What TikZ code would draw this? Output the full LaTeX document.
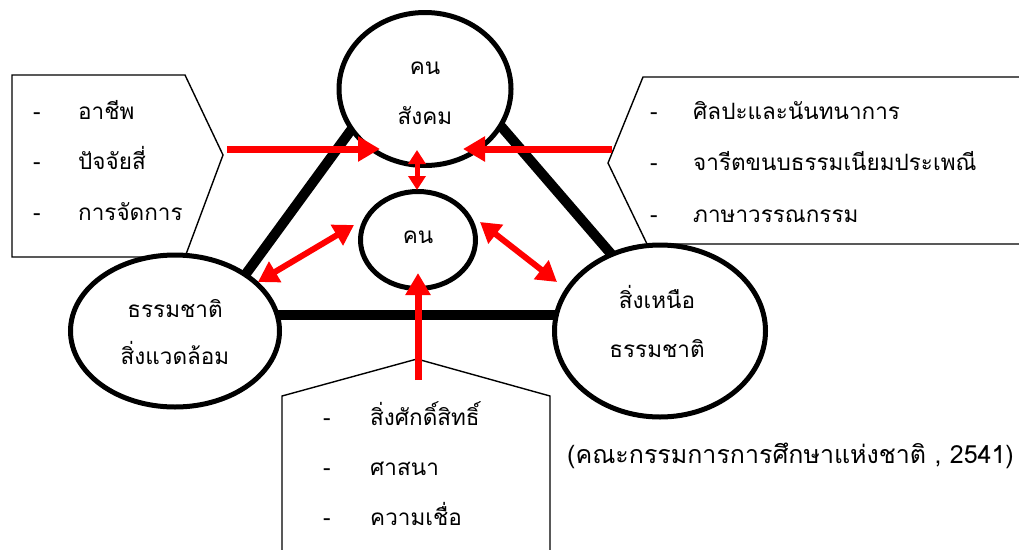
\documentclass[tikz,border=0pt]{standalone}
\usepackage{fontspec}
\newfontfamily\thaifont[Script=Thai]{Loma}
\usetikzlibrary{arrows.meta,shapes.geometric}
\begin{document}
\begin{tikzpicture}[x=1pt,y=-1pt,
  ell/.style={draw, ellipse, line width=5pt, fill=white, inner sep=0pt, outer sep=0pt},
  blackedge/.style={draw, line width=10pt},
  txt/.style={font=\thaifont\fontsize{22.5}{26}\selectfont, inner sep=0pt, anchor=mid},
  itm/.style={txt, anchor=mid west},
  boxline/.style={draw, line width=1.4pt, line join=miter},
  redarr/.style={draw=red, line width=7pt, -{Triangle[length=22pt,width=24pt]}},
  redboth/.style={draw=red, line width=6pt, {Triangle[length=20pt,width=23pt]}-{Triangle[length=20pt,width=23pt]}},
  redsmall/.style={draw=red, line width=5pt, {Triangle[length=14pt,width=17pt]}-{Triangle[length=14pt,width=17pt]}},
]
\useasboundingbox (0,0) rectangle (1019,549);
\fill[white] (0,0) rectangle (1019,549);

% boxes
\draw[boxline] (185,257) -- (12,257) -- (12,75) -- (185,75) -- (223,155) -- cycle;
\draw[boxline] (1030,77) -- (643,77) -- (608,163) -- (647,244) -- (1030,244);
\draw[boxline] (282,555) -- (282,396) -- (417,359) -- (550,396) -- (550,555);
\coordinate (ltip) at (227,149);
\coordinate (rtip) at (612,149);
\coordinate (btip) at (418,380);

% black triangle edges
\draw[blackedge] (362,115) -- (240,282);
\draw[blackedge] (493,117) -- (612,255);
\draw[blackedge] (270,315) -- (565,315);

% ellipses
\node[ell, minimum width=172pt, minimum height=153pt] (top) at (425,89) {};
\node[ell, minimum width=115pt, minimum height=97pt] (inner) at (418,240) {};
\node[ell, minimum width=209pt, minimum height=152pt] (left) at (175,331) {};
\node[ell, minimum width=211pt, minimum height=172pt] (right) at (660,331) {};

% ellipse texts
\node[txt] (t1) at (425,72) {คน};
\node[txt] (t2) at (425,122) {สังคม};
\node[txt] (t3) at (418,241) {คน};
\node[txt] (t4) at (175,315) {ธรรมชาติ};
\node[txt] (t5) at (175,362) {สิ่งแวดล้อม};
\node[txt] (t6) at (657,306) {สิ่งเหนือ};
\node[txt] (t7) at (657,355) {ธรรมชาติ};

% list items
\foreach \y/\t [count=\i] in {117/อาชีพ, 167/ปัจจัยสี่, 218/การจัดการ}{
  \node[itm] (ld\i) at (33,\y) {-};
  \node[itm] (lt\i) at (78,\y) {\t};
}
\foreach \y/\t [count=\i] in {117/ศิลปะและนันทนาการ, 168/จารีตขนบธรรมเนียมประเพณี, 220/ภาษาวรรณกรรม}{
  \node[itm] (rd\i) at (650,\y) {-};
  \node[itm] (rt\i) at (693,\y) {\t};
}
\foreach \y/\t [count=\i] in {423/สิ่งศักดิ์สิทธิ์, 473/ศาสนา, 523/ความเชื่อ}{
  \node[itm] (bd\i) at (323,\y) {-};
  \node[itm] (bt\i) at (370,\y) {\t};
}
\node[font=\thaifont\fontsize{25}{28}\selectfont, inner sep=0pt, anchor=mid west] (cite) at (567,461) {(คณะกรรมการการศึกษาแห่งชาติ , 2541)};

% red arrows
\coordinate (a1e) at (380,149);
\coordinate (a2e) at (463,149);
\coordinate (a3s) at (417,150);
\coordinate (a3e) at (417,190);
\coordinate (a4s) at (258,282);
\coordinate (a4e) at (354,225);
\coordinate (a5s) at (480,222);
\coordinate (a5e) at (557,282);
\coordinate (a6e) at (418,273);
\draw[redarr] (ltip) -- (a1e);
\draw[redarr] (rtip) -- (a2e);
\draw[redsmall] (a3s) -- (a3e);
\draw[redboth] (a4s) -- (a4e);
\draw[redboth] (a5s) -- (a5e);
\draw[redarr] (btip) -- (a6e);
\end{tikzpicture}
\end{document}
